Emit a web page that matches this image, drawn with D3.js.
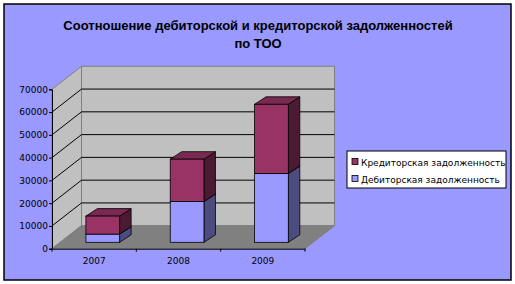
<!DOCTYPE html>
<html>
<head>
<meta charset="utf-8">
<script src="https://cdn.jsdelivr.net/npm/d3@7"></script>
<style>
  body { margin: 0; background: #fff; }
  svg { display: block; }
</style>
</head>
<body>
<div class="canvas"></div>
<script>
// data
const years = ['2007', '2008', '2009'];
const debit = [3600, 17900, 30200];     // Дебиторская
const credit = [7900, 18600, 30400];    // Кредиторская
const seriesNames = ['Кредиторская задолженность', 'Дебиторская задолженность'];
const yTicks = [0, 10000, 20000, 30000, 40000, 50000, 60000, 70000];

const width = 515, height = 284;

const svg = d3.select('.canvas')
    .append('svg')
    .attr('width', width)
    .attr('height', height);

// background + border
svg.append('rect')
    .attr('x', 4).attr('y', 4)
    .attr('width', 507).attr('height', 276)
    .attr('fill', '#9999ff')
    .attr('stroke', '#000')
    .attr('stroke-width', 1.5);

// title
const title = svg.append('text')
    .attr('text-anchor', 'middle')
    .attr('font-family', 'Liberation Sans, Arial, sans-serif')
    .attr('font-weight', 'bold')
    .attr('font-size', 13)
    .attr('fill', '#000');
title.append('tspan').attr('x', 258).attr('y', 30)
    .text('Соотношение дебиторской и кредиторской задолженностей');
title.append('tspan').attr('x', 258).attr('y', 48).text('по ТОО');

// plot geometry (front axis plane)
const plot = { left: 52, right: 305, top: 89.3, bottom: 248.7 };
// depth of the 3d box
const DX = 29.5, DY = -23;
// bar placement inside the depth
const barOff = { dx: 8.6, dy: -6.4 };
const barDepth = { dx: 11.5, dy: -7.5 };

const x = d3.scaleBand()
    .domain(years)
    .range([plot.left, plot.right])
    .paddingInner(0.6)
    .paddingOuter(0.3);

const y = d3.scaleLinear()
    .domain([0, 70000])
    .range([plot.bottom, plot.top]);

const g = svg.append('g');

// side wall
const pts = a => a.map(p => p.join(',')).join(' ');
g.append('polygon')
    .attr('points', pts([
        [plot.left, y(0)], [plot.left + DX, y(0) + DY],
        [plot.left + DX, y(70000) + DY], [plot.left, y(70000)]
    ]))
    .attr('fill', '#c0c0c0')
    .attr('stroke', '#808080');

// back wall
g.append('polygon')
    .attr('points', pts([
        [plot.left + DX, y(0) + DY], [plot.right + DX, y(0) + DY],
        [plot.right + DX, y(70000) + DY], [plot.left + DX, y(70000) + DY]
    ]))
    .attr('fill', '#c0c0c0')
    .attr('stroke', '#808080');

// floor
g.append('polygon')
    .attr('points', pts([
        [plot.left, y(0)], [plot.right, y(0)],
        [plot.right + DX, y(0) + DY], [plot.left + DX, y(0) + DY]
    ]))
    .attr('fill', '#808080')
    .attr('stroke', '#808080');

// gridlines
const grid = yTicks.filter(d => d > 0 && d < 70000);
g.selectAll('.gback').data(grid).enter().append('line')
    .attr('x1', plot.left + DX).attr('x2', plot.right + DX)
    .attr('y1', d => y(d) + DY).attr('y2', d => y(d) + DY)
    .attr('stroke', '#000').attr('stroke-width', 1);
g.selectAll('.gside').data(grid).enter().append('line')
    .attr('x1', plot.left).attr('x2', plot.left + DX)
    .attr('y1', d => y(d)).attr('y2', d => y(d) + DY)
    .attr('stroke', '#000').attr('stroke-width', 1);

// stacked bars
const colors = {
    credit: { front: '#993366', top: '#7a2952', side: '#4d1a33' },
    debit: { front: '#9999ff', top: '#7a7acc', side: '#4c4c80' }
};

const drawBox = (x0, w, y0, y1, c) => {
    const fx = x0 + barOff.dx, dy0 = barOff.dy;
    const bx = barDepth.dx, by = barDepth.dy;
    const top = y(y1) + dy0, bot = y(y0) + dy0;
    // side
    g.append('polygon')
        .attr('points', pts([
            [fx + w, bot], [fx + w + bx, bot + by],
            [fx + w + bx, top + by], [fx + w, top]
        ]))
        .attr('fill', c.side).attr('stroke', '#000').attr('stroke-width', 0.8);
    // top
    g.append('polygon')
        .attr('points', pts([
            [fx, top], [fx + w, top], [fx + w + bx, top + by], [fx + bx, top + by]
        ]))
        .attr('fill', c.top).attr('stroke', '#000').attr('stroke-width', 0.8);
    // front
    g.append('rect')
        .attr('x', fx).attr('y', top)
        .attr('width', w).attr('height', bot - top)
        .attr('fill', c.front).attr('stroke', '#000').attr('stroke-width', 0.8);
};

years.forEach((yr, i) => {
    drawBox(x(yr), x.bandwidth(), 0, debit[i], colors.debit);
    drawBox(x(yr), x.bandwidth(), debit[i], debit[i] + credit[i], colors.credit);
});

// axes
const yAxis = d3.axisLeft(y)
    .tickValues(yTicks)
    .tickSize(3)
    .tickFormat(d3.format('d'));

const yAxisGroup = svg.append('g')
    .attr('transform', `translate(${plot.left},0)`)
    .call(yAxis);
yAxisGroup.select('.domain').attr('stroke', '#000');

const xAxis = d3.axisBottom(x).tickSize(0);
const xAxisGroup = svg.append('g')
    .attr('transform', `translate(0,${plot.bottom})`)
    .call(xAxis);
xAxisGroup.select('.domain').attr('stroke', '#000');

// category separator ticks
const step = x.step();
svg.selectAll('.xt').data(d3.range(years.length + 1)).enter().append('line')
    .attr('x1', i => plot.left + i * step).attr('x2', i => plot.left + i * step)
    .attr('y1', plot.bottom).attr('y2', plot.bottom + 3)
    .attr('stroke', '#000');

svg.selectAll('.tick text')
    .attr('font-family', 'DejaVu Sans, sans-serif')
    .attr('font-size', 9)
    .attr('fill', '#000');
xAxisGroup.selectAll('.tick text').attr('dy', '1.4em');
yAxisGroup.selectAll('.tick text').attr('x', -4);

// legend
const legend = svg.append('g').attr('transform', 'translate(347,151)');
legend.append('rect')
    .attr('width', 159).attr('height', 37)
    .attr('fill', '#fff').attr('stroke', '#000');
const legendColors = ['#993366', '#9999ff'];
seriesNames.forEach((name, i) => {
    const row = legend.append('g').attr('transform', `translate(5,${11 + i * 17})`);
    row.append('rect')
        .attr('x', 0).attr('y', -3.5)
        .attr('width', 6).attr('height', 6)
        .attr('fill', legendColors[i]).attr('stroke', '#000').attr('stroke-width', 0.8);
    row.append('text')
        .attr('x', 9).attr('y', 3.5)
        .attr('font-family', 'DejaVu Sans, sans-serif')
        .attr('font-size', 9)
        .text(name);
});
</script>
</body>
</html>
